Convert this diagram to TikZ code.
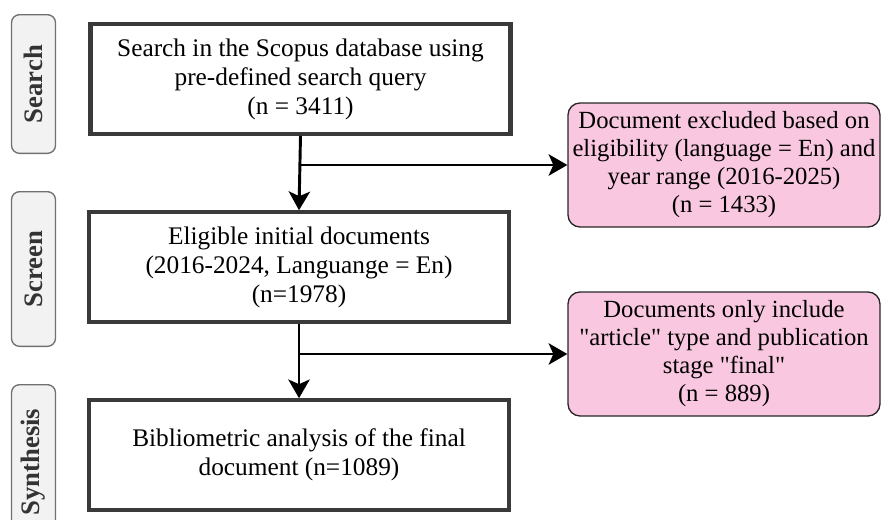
\documentclass[tikz,border=0pt]{standalone}
\usepackage{fontspec}
\setmainfont{Liberation Serif}
\usepackage{tikz}
\usetikzlibrary{arrows.meta,positioning}
\definecolor{boxline}{RGB}{58,58,58}
\definecolor{exclfill}{RGB}{249,199,224}
\definecolor{phasefill}{RGB}{242,242,242}
\definecolor{phaseline}{RGB}{112,112,112}

\begin{document}
\begin{tikzpicture}[x=0.75pt, y=-0.75pt, >={Stealth[length=14pt, width=16pt, inset=3.5pt]},
  font=\fontsize{19}{21.75}\selectfont,
  phase/.style={rectangle, rounded corners=6pt, draw=phaseline, fill=phasefill, line width=1pt,
                rotate=90, minimum height=33pt, text=black!80,
                font=\fontsize{20}{22}\selectfont\bfseries},
  stagebox/.style={rectangle, draw=boxline, line width=3.2pt, fill=white,
                   minimum width=315pt, minimum height=82pt, align=center},
  excl/.style={rectangle, rounded corners=9pt, draw=black!85, fill=exclfill, line width=1pt,
               minimum width=234pt, minimum height=93pt, align=center, inner sep=2pt,
               font=\fontsize{18.5}{21}\selectfont},
  flow/.style={draw=black, line width=2.2pt}]
  \useasboundingbox (0,0) rectangle (882,519);
  \clip (0,0) rectangle (882,519);

  % phase labels on the left
  \node[phase, minimum width=104pt] (psearch) at (33.5,84)  {Search};
  \node[phase, minimum width=116pt] (pscreen) at (33.5,269) {Screen};
  \node[phase, minimum width=116pt] (psynth)  at (33.5,462) {Synthesis};

  % main flow
  \node[stagebox] (search) at (300.5,79) {Search in the Scopus database using\\ pre-defined search query\\ (n = 3411)};
  \node[stagebox] (screen) at (299,267)  {Eligible initial documents\\ (2016-2024, Languange = En)\\ (n=1978)};
  \node[stagebox] (synth)  at (299,455)  {Bibliometric analysis of the final\\ document (n=1089)};

  % excluded records
  \node[excl] (ex1) at (724,165) {Document excluded based on\\ eligibility (language = En) and\\ year range (2016-2025)\\ (n = 1433)};
  \node[excl] (ex2) at (724,354) {Documents only include\\ \textquotedbl article\textquotedbl{} type and publication\\ stage \textquotedbl final\textquotedbl\\ (n = 889)};

  \coordinate (j1) at (search.south |- ex1.west);
  \coordinate (j2) at (screen.south |- ex2.west);

  \draw[flow, ->] (search.south) -- (screen.north);
  \draw[flow, ->] (j1) -- (ex1.west);
  \draw[flow, ->] (screen.south) -- (synth.north);
  \draw[flow, ->] (j2) -- (ex2.west);
\end{tikzpicture}
\end{document}
